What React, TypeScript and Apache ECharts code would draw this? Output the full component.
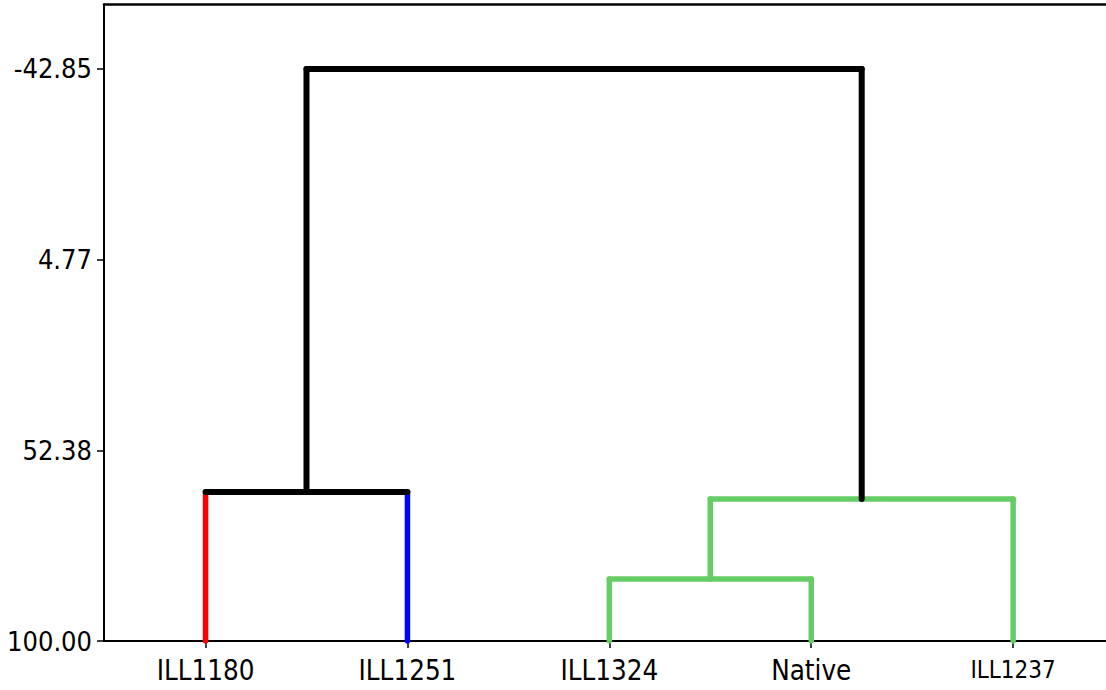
import React, { useEffect, useRef } from "react";
import * as echarts from "echarts";

// Leaves (in dendrogram order)
const leaves = ["ILL1180", "ILL1251", "ILL1324", "Native", "ILL1237"];
// Merges: children node ids (0-4 are leaves, 5+ are merges in order) and height
const mergeLeft = [0, 2, 6, 5];
const mergeRight = [1, 3, 4, 7];
const mergeHeights = [62.79, 84.5, 64.54, -42.85];
// Colours of the vertical link above each node (leaves 0-4, merges 5-8)
const nodeColors = ["#ff0000", "#0000ff", "#66cc66", "#66cc66", "#66cc66", "#000000", "#66cc66", "#000000", "#000000"];
// Colours of each merge's horizontal bar
const mergeBarColors = ["#000000", "#66cc66", "#66cc66", "#000000"];
// Y axis tick labels
const yTicks = [-42.85, 4.77, 52.38, 100.0];
const leafHeight = 100;

export default function App() {
  const ref = useRef<HTMLDivElement>(null);
  useEffect(() => {
    if (!ref.current) return;
    const chart = echarts.init(ref.current, undefined, { renderer: "svg" });

    const nodeX: number[] = leaves.map((_, i) => i);
    const nodeH: number[] = leaves.map(() => leafHeight);
    mergeHeights.forEach((h, k) => {
      nodeX.push((nodeX[mergeLeft[k]] + nodeX[mergeRight[k]]) / 2);
      nodeH.push(h);
    });

    const series: any[] = [];
    const seg = (pts: number[][], color: string, width: number) => {
      series.push({
        type: "line",
        data: pts,
        symbol: "none",
        silent: true,
        lineStyle: { color, width, cap: "round", join: "round" },
        z: 3,
      });
    };
    const widthFor = (c: string) => (c === "#000000" ? 6 : 5.5);
    mergeHeights.forEach((h, k) => {
      const a = mergeLeft[k];
      const b = mergeRight[k];
      [a, b].forEach((c) => {
        seg(
          [
            [nodeX[c], nodeH[c]],
            [nodeX[c], h],
          ],
          nodeColors[c],
          widthFor(nodeColors[c])
        );
      });
      seg(
        [
          [nodeX[a], h],
          [nodeX[b], h],
        ],
        mergeBarColors[k],
        widthFor(mergeBarColors[k])
      );
    });

    const labelFont = "'DejaVu Sans Condensed', 'DejaVu Sans', sans-serif";
    chart.setOption({
      animation: false,
      backgroundColor: "#ffffff",
      grid: { left: 104, right: 0, top: 4.5, bottom: 49, containLabel: false },
      xAxis: [
        {
          type: "value",
          min: -0.503,
          max: 4.46,
          position: "bottom",
          splitLine: { show: false },
          axisLine: { show: true, onZero: false, lineStyle: { color: "#000", width: 2 } },
          axisTick: { show: true, length: 7, customValues: leaves.map((_, i) => i), lineStyle: { color: "#000", width: 1.5 } },
          axisLabel: {
            show: true,
            customValues: leaves.map((_, i) => i),
            margin: 14,
            color: "#000",
            fontFamily: labelFont,
            fontSize: 27.5,
            lineHeight: 29,
            formatter: (v: number) => {
              const i = Math.round(v);
              const name = leaves[i] ?? "";
              return i === leaves.length - 1 ? "{s|" + name + "}" : name;
            },
            rich: { s: { fontSize: 24, lineHeight: 29, fontFamily: labelFont, color: "#000" } },
          },
        },
        {
          type: "value",
          min: -0.503,
          max: 4.46,
          position: "top",
          splitLine: { show: false },
          axisLine: { show: true, onZero: false, lineStyle: { color: "#000", width: 2.5 } },
          axisTick: { show: false },
          axisLabel: { show: false },
        },
      ],
      yAxis: {
        type: "value",
        inverse: true,
        min: -58.95,
        max: 100,
        splitLine: { show: false },
        axisLine: { show: true, onZero: false, lineStyle: { color: "#000", width: 2 } },
        axisTick: { show: true, length: 7, customValues: yTicks, lineStyle: { color: "#000", width: 1.5 } },
        axisLabel: {
          show: true,
          customValues: yTicks,
          margin: 12,
          color: "#000",
          fontFamily: labelFont,
          fontSize: 27,
          formatter: (v: number) => v.toFixed(2),
        },
      },
      series,
    });
    return () => chart.dispose();
  }, []);
  return (
    <div
      ref={ref}
      style={{ position: "fixed", left: 0, top: 0, width: 1106, height: 690, background: "#fff" }}
    />
  );
}
